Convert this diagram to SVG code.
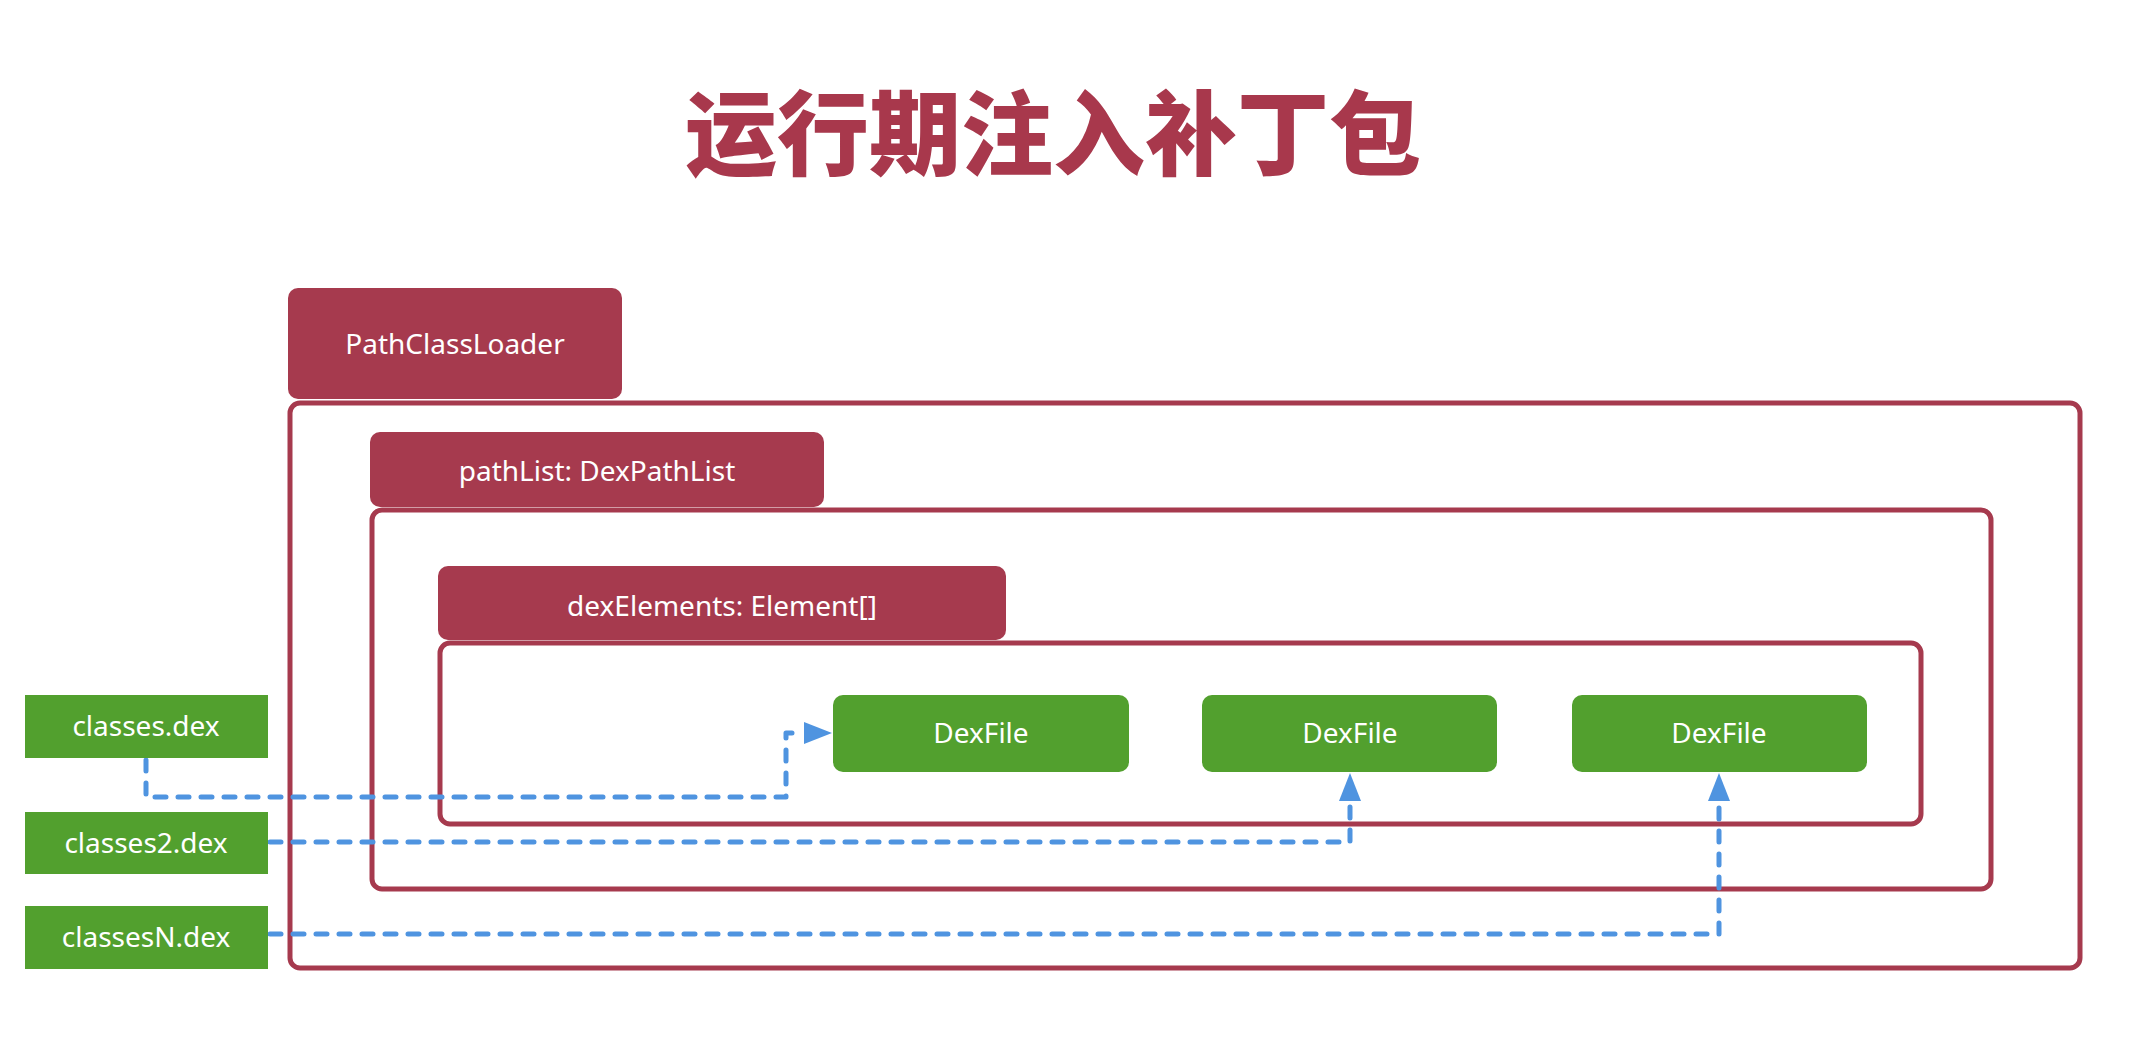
<svg xmlns="http://www.w3.org/2000/svg" width="2138" height="1048" viewBox="0 0 2138 1048">
<defs>
<style>
.title{font-family:"Noto Sans CJK SC","Noto Sans",sans-serif;font-weight:900;font-size:92px;fill:#A8384C}
.frame{fill:#ffffff;stroke:#A63A4E;stroke-width:5}
.tab{fill:#A63A4E}
.lbl{font-family:"Noto Sans","Open Sans",sans-serif;font-size:28px;fill:#ffffff;text-anchor:middle}
.dex{fill:#52A02E}
.src{fill:#52A02E}
.conn{fill:none;stroke:#4F94E0;stroke-width:5;stroke-dasharray:11 12;stroke-linecap:round;stroke-linejoin:round}
</style>
<marker id="ah" markerUnits="userSpaceOnUse" markerWidth="30" markerHeight="24" refX="0" refY="11" orient="auto">
<path d="M0,0 L28,11 L0,22 Z" fill="#4F94E0"/>
</marker>
</defs>
<rect width="2138" height="1048" fill="#ffffff"/>
<text class="title" x="1053" y="168" text-anchor="middle">运行期注入补丁包</text>

<g id="pathClassLoader">
<rect class="frame" x="290" y="403" width="1790" height="565" rx="10"/>
<rect class="tab" x="288" y="288" width="334" height="111" rx="10"/>
<text class="lbl" x="455" y="354">PathClassLoader</text>
</g>
<g id="pathList">
<rect class="frame" x="372" y="510" width="1619" height="379" rx="10"/>
<rect class="tab" x="370" y="432" width="454" height="75" rx="10"/>
<text class="lbl" x="597" y="481">pathList: DexPathList</text>
</g>
<g id="dexElements">
<rect class="frame" x="440" y="643" width="1481" height="181" rx="10"/>
<rect class="tab" x="438" y="566" width="568" height="74" rx="10"/>
<text class="lbl" x="722" y="616">dexElements: Element[]</text>
</g>

<g id="dexfile1"><rect class="dex" x="833" y="695" width="296" height="77" rx="10"/><text class="lbl" x="981" y="743">DexFile</text></g>
<g id="dexfile2"><rect class="dex" x="1202" y="695" width="295" height="77" rx="10"/><text class="lbl" x="1350" y="743">DexFile</text></g>
<g id="dexfile3"><rect class="dex" x="1572" y="695" width="295" height="77" rx="10"/><text class="lbl" x="1719" y="743">DexFile</text></g>

<g id="connectors">
<path class="conn" d="M146,760 L146,797 L786,797 L786,733 L804,733" marker-end="url(#ah)"/>
<path class="conn" d="M270,842 L1350,842 L1350,801" marker-end="url(#ah)"/>
<path class="conn" d="M270,934 L1719,934 L1719,801" marker-end="url(#ah)"/>
</g>

<g id="classes"><rect class="src" x="25" y="695" width="243" height="63"/><text class="lbl" x="146" y="736">classes.dex</text></g>
<g id="classes2"><rect class="src" x="25" y="812" width="243" height="62"/><text class="lbl" x="146" y="853">classes2.dex</text></g>
<g id="classesN"><rect class="src" x="25" y="906" width="243" height="63"/><text class="lbl" x="146" y="947">classesN.dex</text></g>
</svg>
